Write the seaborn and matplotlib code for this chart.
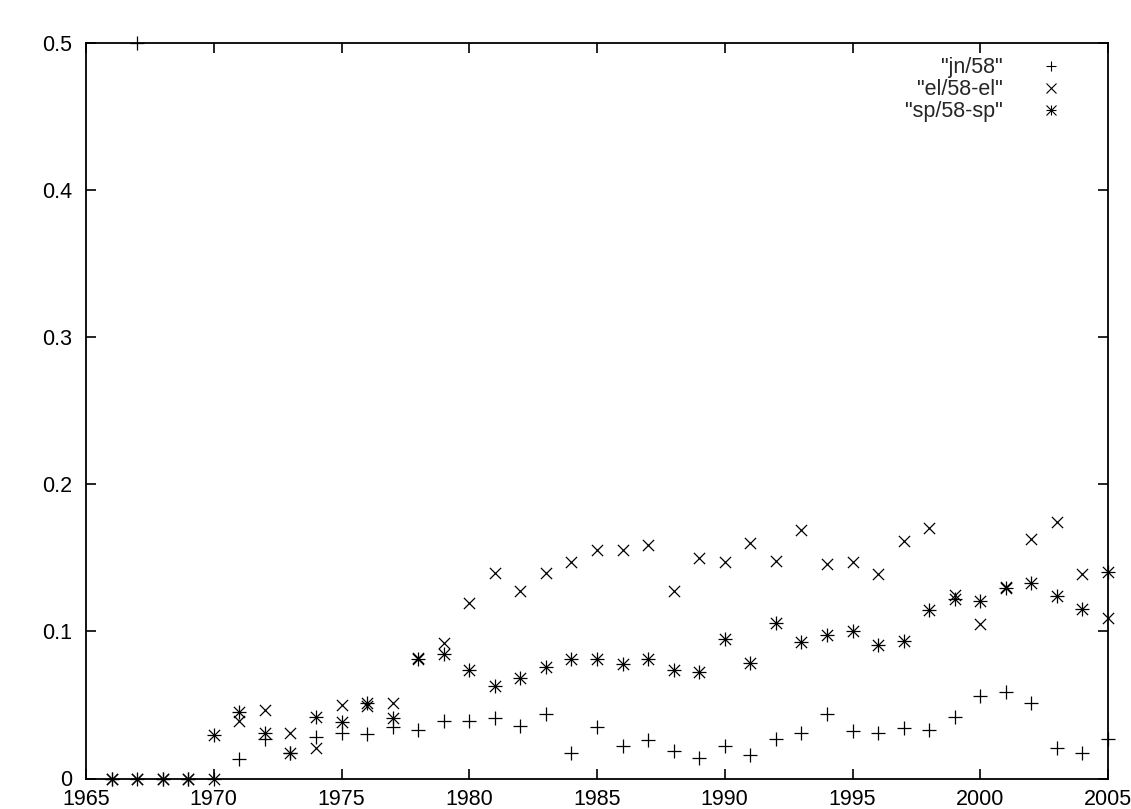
import matplotlib
matplotlib.use("Agg")
import matplotlib.pyplot as plt
import seaborn as sns
import pandas as pd
from matplotlib.lines import Line2D
from matplotlib.legend_handler import HandlerTuple

years = [1966, 1967, 1968, 1969, 1970, 1971, 1972, 1973, 1974, 1975,
         1976, 1977, 1978, 1979, 1980, 1981, 1982, 1983, 1984, 1985,
         1986, 1987, 1988, 1989, 1990, 1991, 1992, 1993, 1994, 1995,
         1996, 1997, 1998, 1999, 2000, 2001, 2002, 2003, 2004, 2005]

jn = [0, 0.5, 0, 0, 0, 0.013, 0.027, 0.017, 0.028, 0.031,
      0.030, 0.035, 0.033, 0.039, 0.039, 0.041, 0.036, 0.044, 0.0175, 0.035,
      0.022, 0.026, 0.019, 0.014, 0.022, 0.016, 0.027, 0.031, 0.044, 0.032,
      0.031, 0.034, 0.033, 0.042, 0.056, 0.059, 0.051, 0.021, 0.017, 0.027]

el = [0, 0, 0, 0, 0, 0.039, 0.0465, 0.031, 0.021, 0.050,
      0.049, 0.0515, 0.082, 0.092, 0.119, 0.140, 0.1275, 0.140, 0.147, 0.155,
      0.1555, 0.159, 0.1275, 0.150, 0.1475, 0.160, 0.148, 0.169, 0.1455, 0.1475,
      0.139, 0.1615, 0.1705, 0.1245, 0.105, 0.130, 0.163, 0.1745, 0.139, 0.109]

sp = [0, 0, 0, 0, 0.0295, 0.0455, 0.031, 0.017, 0.042, 0.0385,
      0.0515, 0.041, 0.0815, 0.0845, 0.0735, 0.063, 0.068, 0.076, 0.081, 0.0815,
      0.0775, 0.0815, 0.074, 0.0725, 0.095, 0.0785, 0.1055, 0.0925, 0.0975, 0.100,
      0.0905, 0.0935, 0.1145, 0.122, 0.121, 0.1295, 0.133, 0.124, 0.1155, 0.1405]

labels = ['"jn/58"', '"el/58-el"', '"sp/58-sp"']
x_ticks = [1965, 1970, 1975, 1980, 1985, 1990, 1995, 2000, 2005]
y_ticks = [0, 0.1, 0.2, 0.3, 0.4, 0.5]
y_ticklabels = ["0", "0.1", "0.2", "0.3", "0.4", "0.5"]

sns.set_style("ticks")
plt.rcParams['font.family'] = ['Liberation Sans', 'DejaVu Sans']

df = pd.DataFrame({"year": years, "jn": jn, "el": el, "sp": sp})

fig = plt.figure(figsize=(11.31, 8.09), dpi=100)
ax = fig.add_axes([86 / 1131, 1 - 778.5 / 809, (1108 - 86) / 1131, (778.5 - 43) / 809])

kw = dict(color="black", s=90, linewidth=0.9, clip_on=False, legend=False)
kx = dict(color="black", s=65, linewidth=0.9, clip_on=False, legend=False)
sns.scatterplot(data=df, x="year", y="jn", marker="+", ax=ax, **kw)
sns.scatterplot(data=df, x="year", y="el", marker="x", ax=ax, **kx)
sns.scatterplot(data=df, x="year", y="sp", marker="+", ax=ax, **kw)
sns.scatterplot(data=df, x="year", y="sp", marker="x", ax=ax, **kx)

ax.set_xlim(1965, 2005)
ax.set_ylim(0, 0.5)
ax.set_xticks(x_ticks)
ax.set_xticklabels([str(v) for v in x_ticks])
ax.set_yticks(y_ticks)
ax.set_yticklabels(y_ticklabels)
ax.set_xlabel("")
ax.set_ylabel("")
ax.tick_params(direction="in", length=7, width=1.2, top=True, right=True,
               labelsize=15.5, colors="black")
ax.tick_params(axis="x", pad=7.5)
ax.tick_params(axis="y", pad=10)
for s in ax.spines.values():
    s.set_visible(True)
    s.set_linewidth(1.3)
    s.set_color("black")

h_jn = Line2D([], [], color="black", marker="+", linestyle="none", markersize=7.5, markeredgewidth=0.8)
h_el = Line2D([], [], color="black", marker="x", linestyle="none", markersize=6.5, markeredgewidth=0.8)
h_sp1 = Line2D([], [], color="black", marker="+", linestyle="none", markersize=7.5, markeredgewidth=0.8)
h_sp2 = Line2D([], [], color="black", marker="x", linestyle="none", markersize=6.5, markeredgewidth=0.8)
leg = ax.legend([h_jn, h_el, (h_sp1, h_sp2)], labels,
                handler_map={tuple: HandlerTuple(ndivide=1)},
                loc="upper right", bbox_to_anchor=(0.972, 1.001), frameon=False,
                markerfirst=False, fontsize=15.5, handlelength=1.2, handletextpad=1.65,
                labelspacing=0.05, borderaxespad=0.3)
for t in leg.get_texts():
    t.set_ha("right")

fig.savefig("out.png", dpi=100)
